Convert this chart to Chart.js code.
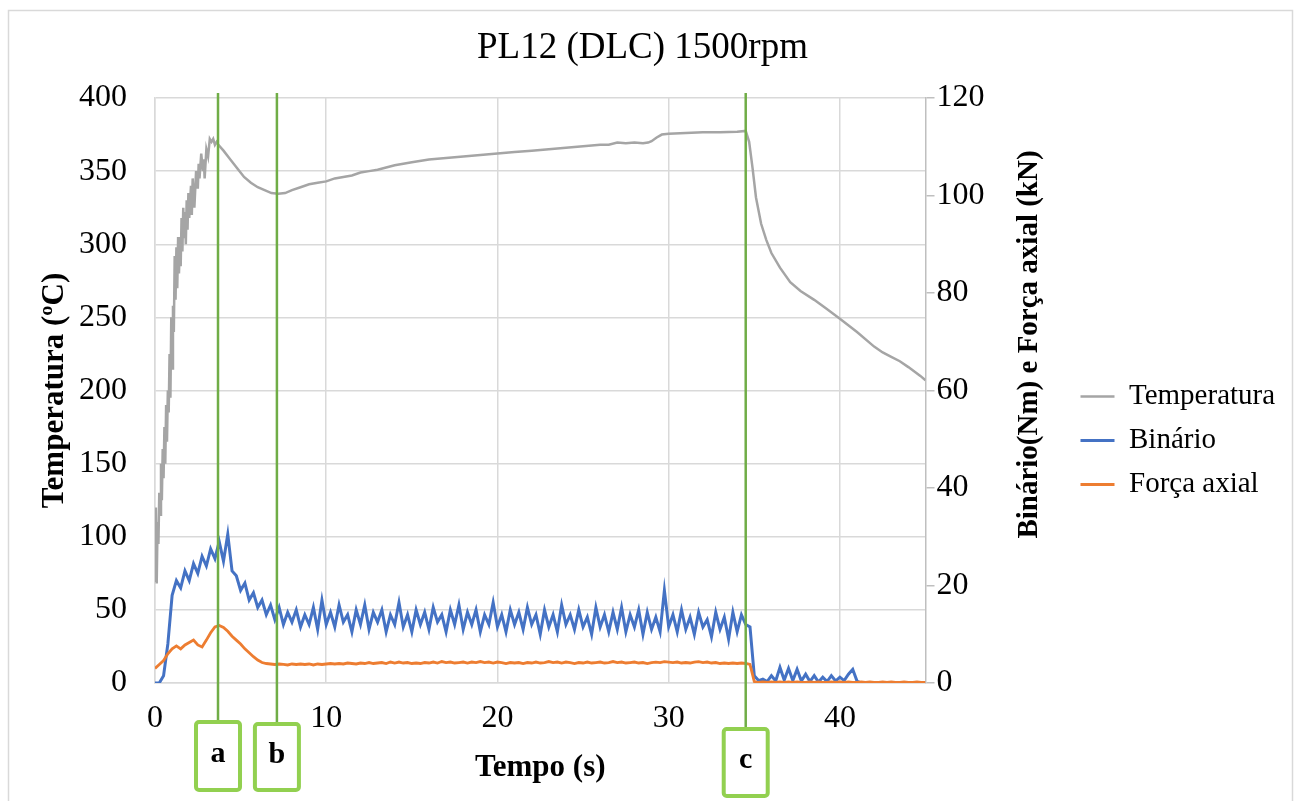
<!DOCTYPE html>
<html lang="pt">
<head>
<meta charset="UTF-8">
<title>PL12 (DLC) 1500rpm</title>
<style>
  html, body { margin: 0; padding: 0; background: #fff; }
  canvas { display: block; }
</style>
<script src="https://cdn.jsdelivr.net/npm/chart.js"></script>
</head>
<body>
<canvas id="grafico" width="1299" height="801"></canvas>
<script>
// Tempo comum (s) para Binário e Força axial
const tempo = [
  0, 0.25, 0.5, 0.75, 1, 1.25, 1.5, 1.75, 2, 2.25, 2.5, 2.75, 3, 3.25, 3.5, 3.75, 4, 4.25, 4.5, 4.75,
  5, 5.25, 5.5, 5.75, 6, 6.25, 6.5, 6.75, 7, 7.25, 7.5, 7.75, 8, 8.25, 8.5, 8.75, 9, 9.25, 9.5, 9.75,
  10, 10.25, 10.5, 10.75, 11, 11.25, 11.5, 11.75, 12, 12.25, 12.5, 12.75, 13, 13.25, 13.5, 13.75, 14, 14.25, 14.5, 14.75,
  15, 15.25, 15.5, 15.75, 16, 16.25, 16.5, 16.75, 17, 17.25, 17.5, 17.75, 18, 18.25, 18.5, 18.75, 19, 19.25, 19.5, 19.75,
  20, 20.25, 20.5, 20.75, 21, 21.25, 21.5, 21.75, 22, 22.25, 22.5, 22.75, 23, 23.25, 23.5, 23.75, 24, 24.25, 24.5, 24.75,
  25, 25.25, 25.5, 25.75, 26, 26.25, 26.5, 26.75, 27, 27.25, 27.5, 27.75, 28, 28.25, 28.5, 28.75, 29, 29.25, 29.5, 29.75,
  30, 30.25, 30.5, 30.75, 31, 31.25, 31.5, 31.75, 32, 32.25, 32.5, 32.75, 33, 33.25, 33.5, 33.75, 34, 34.25, 34.5, 34.75,
  35, 35.25, 35.5, 35.75, 36, 36.25, 36.5, 36.75, 37, 37.25, 37.5, 37.75, 38, 38.25, 38.5, 38.75, 39, 39.25, 39.5, 39.75,
  40, 40.25, 40.5, 40.75, 41, 41.25, 41.5, 41.75, 42, 42.25, 42.5, 42.75, 43, 43.25, 43.5, 43.75, 44, 44.25, 44.5, 44.75,
  45
];

// Binário (Nm) - eixo direito
const binario = [
  0, 0, 1.5, 8, 18, 21, 19.5, 23, 21, 24.5, 22.5, 26, 24, 27.5, 25.5, 29, 25, 30.5, 23, 22,
  19, 20.5, 17, 18.5, 15.5, 17, 14, 16, 13, 15.5, 12, 14.5, 12.5, 15, 11.5, 14, 12, 15.5, 11, 17,
  12, 14.5, 11.5, 16, 12.5, 14, 10.5, 15, 12, 16, 11, 14.5, 12.5, 15, 10.5, 14, 12, 16.5, 11.5, 14,
  10.5, 15, 12, 14.5, 11, 15.5, 12.5, 14, 10.5, 15, 12, 16, 11, 14.5, 12, 15, 10.5, 14, 12, 16.5,
  11.5, 14, 10.5, 15, 12, 14.5, 11, 15.5, 12, 14, 10, 15, 11.5, 14, 10.5, 16, 12, 14, 11, 15,
  11.5, 13.5, 10, 15.5, 11.5, 14, 10.5, 14.5, 11, 15.5, 10.5, 14, 11.5, 15, 10, 14.5, 11, 13.5, 10.5, 19,
  11.5, 14, 10.5, 15, 11, 13.5, 10, 14.5, 11.5, 13, 9.5, 14.5, 11, 13.5, 9, 14.5, 10.5, 14, 12, 11.5,
  1.5, 0.5, 0.8, 0.3, 1.5, 0.4, 3.2, 0.6, 3, 0.5, 2.8, 0.4, 1.8, 0.3, 1.5, 0.2, 1.2, 0.3, 1.5, 0.4,
  1.2, 0.5, 1.8, 2.8, 0.4, 0, null, null, null, null, null, null, null, null, null, null, null, null, null, null,
  null
];

// Força axial (kN) - eixo direito
const forca = [
  3, 3.8, 4.6, 6, 7, 7.6, 7, 7.8, 8.3, 8.8, 7.8, 7.4, 8.8, 10.3, 11.5, 11.8, 11.4, 10.6, 9.6, 8.8,
  8.0, 7.0, 6.2, 5.4, 4.7, 4.2, 4.0, 3.9, 3.8, 3.9, 3.8, 3.7, 3.9, 3.8, 3.9, 3.8, 3.9, 3.7, 3.9, 3.8,
  3.9, 4.0, 3.9, 4.0, 3.9, 4.1, 4.0, 3.9, 4.1, 4.0, 4.2, 4.0, 4.1, 4.2, 4.0, 4.3, 4.1, 4.3, 4.1, 4.2,
  4.0, 4.1, 4.0, 4.2, 4.1, 4.3, 4.1, 4.4, 4.2, 4.3, 4.1, 4.2, 4.3, 4.1, 4.3, 4.2, 4.4, 4.2, 4.3, 4.1,
  4.3, 4.2, 4.0, 4.2, 4.1, 4.2, 4.0, 4.2, 4.1, 4.3, 4.1, 4.2, 4.4, 4.2, 4.3, 4.1, 4.3, 4.2, 4.0, 4.2,
  4.1, 4.3, 4.1, 4.2, 4.3, 4.1, 4.2, 4.4, 4.2, 4.3, 4.1, 4.2, 4.3, 4.1, 4.2, 4.0, 4.2, 4.3, 4.2, 4.4,
  4.3, 4.2, 4.3, 4.1, 4.2, 4.1, 4.3, 4.4, 4.2, 4.3, 4.1, 4.2, 4.0, 4.1, 4.0, 4.1, 4.0, 4.1, 4.0, 3.8,
  0.3, 0.1, 0.2, 0.1, 0.2, 0.1, 0.2, 0.1, 0.2, 0.1, 0.2, 0.1, 0.1, 0.2, 0.1, 0.2, 0.1, 0.1, 0.2, 0.1,
  0.2, 0.1, 0.2, 0.1, 0.1, 0.2, 0.1, 0.2, 0.1, 0.1, 0.2, 0.1, 0.2, 0.1, 0.1, 0.2, 0.1, 0.1, 0.2, 0.1,
  0.1
];

// Temperatura (ºC) - eixo esquerdo, amostragem própria
const tempoTemp = [
  0, 0.05, 0.1, 0.15, 0.2, 0.25, 0.3, 0.35, 0.4, 0.45, 0.5, 0.55, 0.6, 0.65, 0.7, 0.75, 0.8, 0.85, 0.9, 0.95,
  1, 1.05, 1.1, 1.15, 1.2, 1.25, 1.3, 1.35, 1.4, 1.45, 1.5, 1.55, 1.6, 1.65, 1.7, 1.75, 1.8, 1.85, 1.9, 1.95, 2,
  2.1, 2.15, 2.2, 2.3, 2.4, 2.5, 2.55, 2.6, 2.7, 2.8, 2.85, 2.9, 3, 3.1, 3.2, 3.3, 3.4, 3.5, 3.6, 3.7,
  4, 4.4, 4.8, 5.2, 5.6, 6, 6.4, 6.8, 7.2, 7.6,
  8, 8.5, 9, 9.5, 10, 10.5, 11, 11.5, 12, 12.5, 13,
  14, 15, 16, 17, 18, 19, 20, 21, 22, 23, 24, 25, 26,
  26.5, 27, 27.5, 28, 28.5, 28.8, 29, 29.3, 29.6, 30,
  31, 32, 33, 34, 34.5,
  34.7, 34.9, 35.1, 35.4, 35.7, 36, 36.5, 37.1, 37.7, 38.5, 39.2, 40,
  41, 42, 42.5, 43, 43.5, 44, 44.7, 45
];
const temperatura = [
  70, 120, 68, 110, 95, 130, 115, 150, 125, 160, 140, 175, 150, 190, 165, 200, 185, 225, 195, 250,
  215, 258, 240, 292, 262, 298, 270, 305, 280, 300, 285, 318, 295, 325, 305, 322, 300, 330, 310, 335, 318,
  340, 320, 345, 325, 350, 338, 355, 345, 362, 350, 358, 345, 365, 360, 372, 370, 372, 368, 370, 368,
  364, 358, 352, 346, 342, 339, 337, 335, 334.5, 335,
  337, 339, 341, 342, 343, 345, 346, 347, 349, 350, 351,
  354, 356, 358, 359, 360, 361, 362, 363, 364, 365, 366, 367, 368,
  368, 369.5, 369, 369.5, 369, 369.5, 370.5, 373, 375, 375.5,
  376, 376.5, 376.5, 377, 377.5,
  370, 352, 332, 314, 303, 294, 284, 274, 268, 262, 256, 249,
  240, 230, 226, 223, 220, 216, 210, 207
];

// Marcas a, b, c
const marcaTempo = [3.68, 7.12, 34.5];
const marcaLetra = ['a', 'b', 'c'];

const tituloDireito = 'Binário(Nm) e Força axial (kN)';
const serif = "'Liberation Serif', 'Times New Roman', serif";

Chart.defaults.font.family = serif;
Chart.defaults.color = '#000';

const pares = (xs, ys) => xs.map((t, i) => ({ x: t, y: ys[i] }));

// caixas das marcas (deslocamentos abaixo da área do gráfico)
const caixas = [
  { topo: 39, fundo: 107, larg: 44 },
  { topo: 41, fundo: 107, larg: 44 },
  { topo: 46, fundo: 113, larg: 44 }
];

const marcasPlugin = {
  id: 'marcas',
  beforeDraw(chart) {
    const ctx = chart.ctx;
    ctx.save();
    ctx.fillStyle = '#fff';
    ctx.fillRect(0, 0, chart.width, chart.height);
    ctx.strokeStyle = '#d9d9d9';
    ctx.lineWidth = 1.5;
    ctx.strokeRect(8.5, 10.5, 1284, 800);
    ctx.restore();
  },
  afterDraw(chart) {
    const ctx = chart.ctx;
    const area = chart.chartArea;
    const xs = chart.scales.x;
    const y1 = chart.scales.y1;

    // título do eixo direito (lido de baixo para cima)
    ctx.save();
    ctx.translate(y1.left + 104, (area.top + area.bottom) / 2 - 46);
    ctx.rotate(-Math.PI / 2);
    ctx.font = 'bold 29px ' + serif;
    ctx.fillStyle = '#000';
    ctx.textAlign = 'center';
    ctx.textBaseline = 'middle';
    ctx.fillText(tituloDireito, 0, 0);
    ctx.restore();

    marcaTempo.forEach((t, i) => {
      const px = xs.getPixelForValue(t);
      const c = caixas[i];
      const topo = area.bottom + c.topo;
      const fundo = area.bottom + c.fundo;
      ctx.save();
      ctx.strokeStyle = '#70ad47';
      ctx.lineWidth = 2.5;
      ctx.beginPath();
      ctx.moveTo(px, area.top - 5);
      ctx.lineTo(px, topo);
      ctx.stroke();
      ctx.strokeStyle = '#92d050';
      ctx.lineWidth = 4;
      ctx.beginPath();
      ctx.roundRect(px - c.larg / 2, topo, c.larg, fundo - topo, 3);
      ctx.stroke();
      ctx.font = 'bold 30px ' + serif;
      ctx.fillStyle = '#000';
      ctx.textAlign = 'center';
      ctx.textBaseline = 'middle';
      ctx.fillText(marcaLetra[i], px, (topo + fundo) / 2 - 2);
      ctx.restore();
    });
  }
};

new Chart(document.getElementById('grafico'), {
  type: 'line',
  data: {
    datasets: [
      {
        label: 'Temperatura',
        data: pares(tempoTemp, temperatura),
        yAxisID: 'y',
        borderColor: '#a5a5a5',
        backgroundColor: '#a5a5a5',
        borderWidth: 2.5,
        pointRadius: 0,
        order: 3
      },
      {
        label: 'Binário',
        data: pares(tempo, binario),
        yAxisID: 'y1',
        borderColor: '#4472c4',
        backgroundColor: '#4472c4',
        borderWidth: 3,
        pointRadius: 0,
        order: 2
      },
      {
        label: 'Força axial',
        data: pares(tempo, forca),
        yAxisID: 'y1',
        borderColor: '#ed7d31',
        backgroundColor: '#ed7d31',
        borderWidth: 2.8,
        pointRadius: 0,
        order: 1
      }
    ]
  },
  options: {
    responsive: false,
    animation: false,
    layout: { padding: { left: 8, right: 22, top: 10, bottom: 0 } },
    plugins: {
      title: {
        display: true,
        text: 'PL12 (DLC) 1500rpm',
        font: { size: 37, weight: 'normal' },
        color: '#000',
        padding: { top: 16, bottom: 27.6 }
      },
      legend: {
        position: 'right',
        align: 'center',
        title: { display: true, text: '', font: { size: 10 }, padding: 29 },
        labels: {
          font: { size: 29 },
          color: '#000',
          usePointStyle: true,
          pointStyle: 'line',
          pointStyleWidth: 34,
          padding: 15,
          sort: (a, b) => a.datasetIndex - b.datasetIndex
        }
      },
      tooltip: { enabled: false }
    },
    scales: {
      x: {
        type: 'linear',
        min: 0,
        max: 45,
        ticks: { stepSize: 10, includeBounds: false, font: { size: 32 }, padding: 16, maxRotation: 0 },
        grid: { color: '#d9d9d9', lineWidth: 1.5, drawTicks: false },
        border: { color: '#d9d9d9', width: 1.5 },
        title: { display: true, text: 'Tempo (s)', font: { size: 31, weight: 'bold' }, padding: { bottom: 14 } },
        afterFit: s => { s.height = 118; }
      },
      y: {
        position: 'left',
        min: 0,
        max: 400,
        ticks: { stepSize: 50, font: { size: 32 }, padding: 28 },
        grid: { color: '#d9d9d9', lineWidth: 1.5, drawTicks: false },
        border: { color: '#d9d9d9', width: 1.5 },
        title: { display: true, text: 'Temperatura (ºC)', font: { size: 31, weight: 'bold' }, padding: { top: 28 } },
        afterFit: s => { s.width = 147; }
      },
      y1: {
        position: 'right',
        min: 0,
        max: 120,
        ticks: { stepSize: 20, font: { size: 32 }, padding: 2 },
        grid: { drawOnChartArea: false, drawTicks: true, tickLength: 9, color: '#bfbfbf', lineWidth: 1.5 },
        border: { color: '#bfbfbf', width: 1.5 },
        afterFit: s => { s.width = 140; }
      }
    }
  },
  plugins: [marcasPlugin]
});
</script>
</body>
</html>
